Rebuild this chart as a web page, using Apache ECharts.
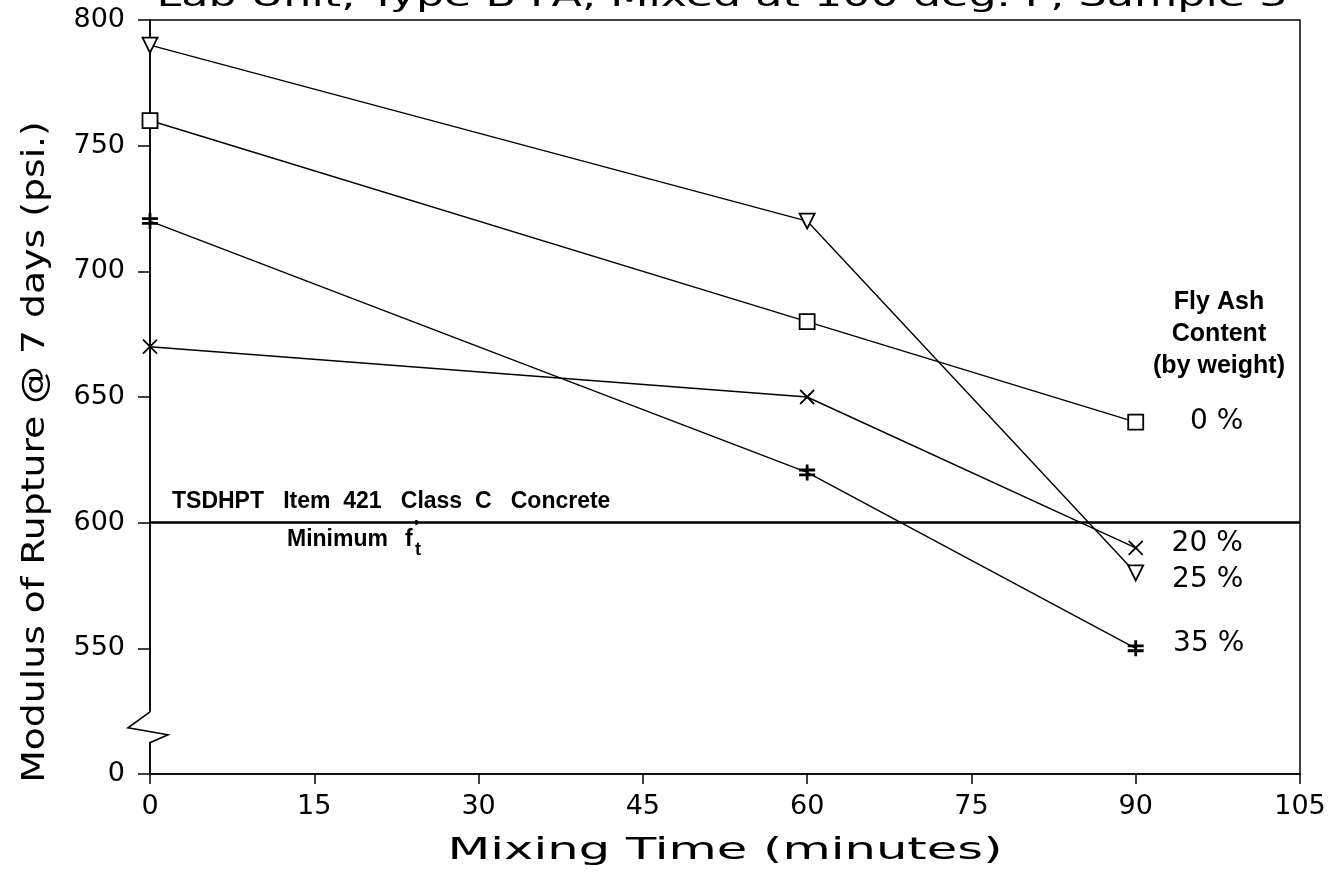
<!DOCTYPE html>
<html>
<head>
<meta charset="utf-8">
<title>Modulus of Rupture vs Mixing Time</title>
<script src="https://cdn.jsdelivr.net/npm/echarts@6/dist/echarts.min.js"></script>
<style>
  html, body { margin: 0; padding: 0; background: #fff; }
  #chart { width: 1335px; height: 878px; }
</style>
</head>
<body>
<div id="chart"></div>
<script>
// mixing time (minutes)
var times = [0, 60, 90];
// modulus of rupture @ 7 days (psi.) per fly ash content
var ash0 = [760, 680, 640];
var ash20 = [670, 650, 590];
var ash25 = [790, 720, 580];
var ash35 = [720, 620, 550];
var seriesNames = ['0 %', '20 %', '25 %', '35 %'];
// y axis is broken between 0 and 550
var yTickLabels = ['0', '550', '600', '650', '700', '750', '800'];
var specLimit = 600;

var axisFont = 'DejaVu Sans';
var noteFont = '"Liberation Sans", sans-serif';

// map a psi value onto the broken axis (0 stays, 550..800 -> 50..300)
function toAxis(v) {
  return v === 0 ? 0 : v - 500;
}
function pairs(vals) {
  return vals.map(function (v, i) { return [times[i], toAxis(v)]; });
}

var markers = [
  { symbol: 'rect', size: 15, rotate: 0, width: 1.8 },
  { symbol: 'path://M0,0L10,10M10,0L0,10', size: 14, rotate: 0, width: 1.8 },
  { symbol: 'triangle', size: 15, rotate: 180, width: 1.8 },
  { symbol: 'path://M5,0L5,10M0,3.5L10,3.5M0,6.5L10,6.5', size: 16, rotate: 0, width: 2.8 }
];
var labelDist = [46, 28, 28, 28];
var labelShift = [[0, 0], [0, -4], [0, 7], [0, -5]];
var allData = [ash0, ash20, ash25, ash35];

var chart = echarts.init(document.getElementById('chart'));

var series = allData.map(function (vals, k) {
  var s = {
    name: seriesNames[k],
    type: 'line',
    data: pairs(vals),
    symbol: markers[k].symbol,
    symbolSize: markers[k].size,
    symbolRotate: markers[k].rotate,
    showAllSymbol: true,
    animation: false,
    z: 3,
    lineStyle: { color: '#000', width: 1.4 },
    itemStyle: { color: '#fff', borderColor: '#000', borderWidth: markers[k].width },
    label: {
      show: true,
      position: 'right',
      distance: labelDist[k],
      offset: labelShift[k],
      color: '#000',
      fontFamily: axisFont,
      fontSize: 28,
      formatter: function (p) { return p.dataIndex === vals.length - 1 ? seriesNames[k] : ''; }
    }
  };
  if (k === 0) {
    s.markLine = {
      silent: true,
      symbol: 'none',
      animation: false,
      label: { show: false },
      lineStyle: { color: '#000', width: 2.5, type: 'solid' },
      data: [{ yAxis: toAxis(specLimit) }]
    };
  }
  return s;
});

var option = {
  backgroundColor: '#fff',
  animation: false,
  grid: {
    left: 150, right: 35, top: 20, bottom: 104,
    show: true, borderColor: '#000', borderWidth: 1.5
  },
  xAxis: {
    type: 'value',
    min: 0, max: 105, interval: 15,
    axisLine: { lineStyle: { color: '#000', width: 1.5 } },
    axisTick: { show: true, length: 10, lineStyle: { color: '#000', width: 1.5 } },
    axisLabel: { color: '#000', fontFamily: axisFont, fontSize: 27, margin: 19 },
    splitLine: { show: false }
  },
  yAxis: {
    type: 'value',
    min: 0, max: 300, interval: 50,
    axisLine: { show: true, lineStyle: { color: '#000', width: 1.5 } },
    axisTick: { show: true, length: 12, lineStyle: { color: '#000', width: 1.5 } },
    axisLabel: {
      color: '#000', fontFamily: axisFont, fontSize: 27, margin: 25,
      formatter: function (v) { return yTickLabels[Math.round(v / 50)]; }
    },
    splitLine: { show: false }
  },
  series: series
};

chart.setOption(option);

// annotations placed from the chart's own scales
function px(x, y) { return chart.convertToPixel({ gridIndex: 0 }, [x, y]); }
var lineY = px(0, toAxis(specLimit))[1];
var origin = px(0, 0);
var brk = px(0, 16);
var gx = brk[0], gy = brk[1];

chart.setOption({
  graphic: [
    {
      type: 'text', z: 50,
      x: 722, y: 13, scaleX: 1.48,
      style: {
        text: 'Lab Unit, Type B FA, Mixed at 100 deg. F, Sample 3',
        x: 0, y: 0, align: 'center', verticalAlign: 'bottom',
        font: '30px ' + axisFont, fill: '#000'
      }
    },
    {
      type: 'text', z: 50,
      style: {
        text: 'TSDHPT   Item  421   Class  C   Concrete',
        x: origin[0] + 22, y: lineY - 10, align: 'left', verticalAlign: 'bottom',
        font: 'bold 23px ' + noteFont, fill: '#000'
      }
    },
    {
      type: 'text', z: 50,
      style: {
        text: 'Minimum',
        x: origin[0] + 137, y: lineY + 17, align: 'left', verticalAlign: 'middle',
        font: 'bold 23px ' + noteFont, fill: '#000'
      }
    },
    {
      type: 'text', z: 50,
      style: {
        text: 'f',
        x: origin[0] + 255, y: lineY + 17, align: 'left', verticalAlign: 'middle',
        font: 'bold 23px ' + noteFont, fill: '#000'
      }
    },
    {
      type: 'text', z: 50,
      style: {
        text: "'",
        x: origin[0] + 264, y: lineY + 6, align: 'left', verticalAlign: 'middle',
        font: 'bold 20px ' + noteFont, fill: '#000'
      }
    },
    {
      type: 'text', z: 50,
      style: {
        text: 't',
        x: origin[0] + 265, y: lineY + 27, align: 'left', verticalAlign: 'middle',
        font: 'bold 18px ' + noteFont, fill: '#000'
      }
    },
    {
      type: 'text', z: 50,
      style: {
        text: 'Fly Ash\nContent\n(by weight)',
        x: 1219, y: 286, align: 'center', verticalAlign: 'top',
        font: 'bold 25px ' + noteFont, fill: '#000', lineHeight: 32
      }
    },
    {
      type: 'text', z: 50,
      x: 725, y: 851, scaleX: 1.6,
      style: {
        text: 'Mixing Time (minutes)',
        x: 0, y: 0, align: 'center', verticalAlign: 'middle',
        font: '31px ' + axisFont, fill: '#000'
      }
    },
    {
      type: 'text', z: 50,
      rotation: Math.PI / 2,
      x: 36, y: 452, scaleX: 1.18,
      style: {
        text: 'Modulus of Rupture @ 7 days (psi.)',
        x: 0, y: 0, align: 'center', verticalAlign: 'middle',
        font: '32px ' + axisFont, fill: '#000'
      }
    },
    {
      type: 'rect', z: 60,
      shape: { x: gx - 2, y: gy - 22, width: 4, height: 30 },
      style: { fill: '#fff' }
    },
    {
      type: 'polyline', z: 61,
      shape: { points: [[gx, gy - 22], [gx - 22, gy - 6], [gx + 18, gy + 1], [gx, gy + 9]] },
      style: { stroke: '#000', lineWidth: 1.6, fill: null }
    }
  ]
});
</script>
</body>
</html>
